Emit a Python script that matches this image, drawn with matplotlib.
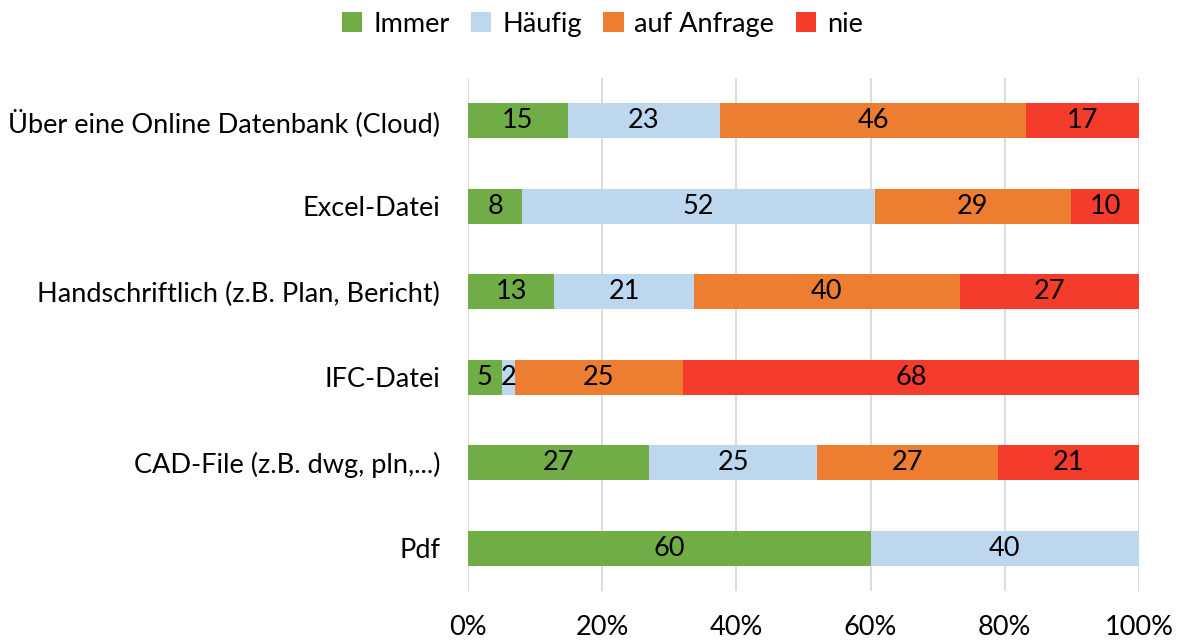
import matplotlib.pyplot as plt
import numpy as np

plt.rcParams['font.family'] = ['Lato', 'DejaVu Sans']

categories = [
    "Über eine Online Datenbank (Cloud)",
    "Excel-Datei",
    "Handschriftlich (z.B. Plan, Bericht)",
    "IFC-Datei",
    "CAD-File (z.B. dwg, pln,...)",
    "Pdf",
]
series = ["Immer", "Häufig", "auf Anfrage", "nie"]
immer = [15, 8, 13, 5, 27, 60]
haeufig = [23, 52, 21, 2, 25, 40]
anfrage = [46, 29, 40, 25, 27, 0]
nie = [17, 10, 27, 68, 21, 0]
colors = ["#70AD47", "#BDD7EE", "#ED7D31", "#F33C2C"]

data = np.array([immer, haeufig, anfrage, nie], dtype=float)
share = data / data.sum(axis=0) * 100  # 100% gestapelt

FS = 19.5

fig = plt.figure(figsize=(11.79, 6.4), dpi=100)
ax = fig.add_axes([468 / 1179, 1 - 591 / 640, 671 / 1179, 513 / 640])

y = np.arange(len(categories))[::-1]
left = np.zeros(len(categories))
for k, name in enumerate(series):
    ax.barh(y, share[k], left=left, height=0.41, color=colors[k],
            label=name, zorder=3)
    for i in range(len(categories)):
        if data[k, i] > 0:
            ax.text(left[i] + share[k, i] / 2, y[i], f"{int(data[k, i])}",
                    ha="center", va="center", fontsize=FS, color="black",
                    zorder=4)
    left += share[k]

ax.set_xlim(0, 100)
ax.set_ylim(-0.5, len(categories) - 0.5)
ax.set_xticks(np.arange(0, 101, 20))
ax.set_xticklabels([f"{v}%" for v in range(0, 101, 20)], fontsize=FS)
ax.set_yticks(y)
ax.set_yticklabels(categories, fontsize=FS)
ax.tick_params(axis="both", length=0)
ax.tick_params(axis="x", pad=17)
ax.tick_params(axis="y", pad=20)
ax.grid(axis="x", color="#D9D9D9", linewidth=1.3, zorder=0)
for s in ax.spines.values():
    s.set_visible(False)

fig.legend(loc="upper center", bbox_to_anchor=(0.511, 1.02), ncol=4,
           frameon=False, fontsize=FS, handlelength=0.75, handleheight=0.75,
           handletextpad=0.4, columnspacing=0.8)

fig.savefig("out.png", dpi=100)
